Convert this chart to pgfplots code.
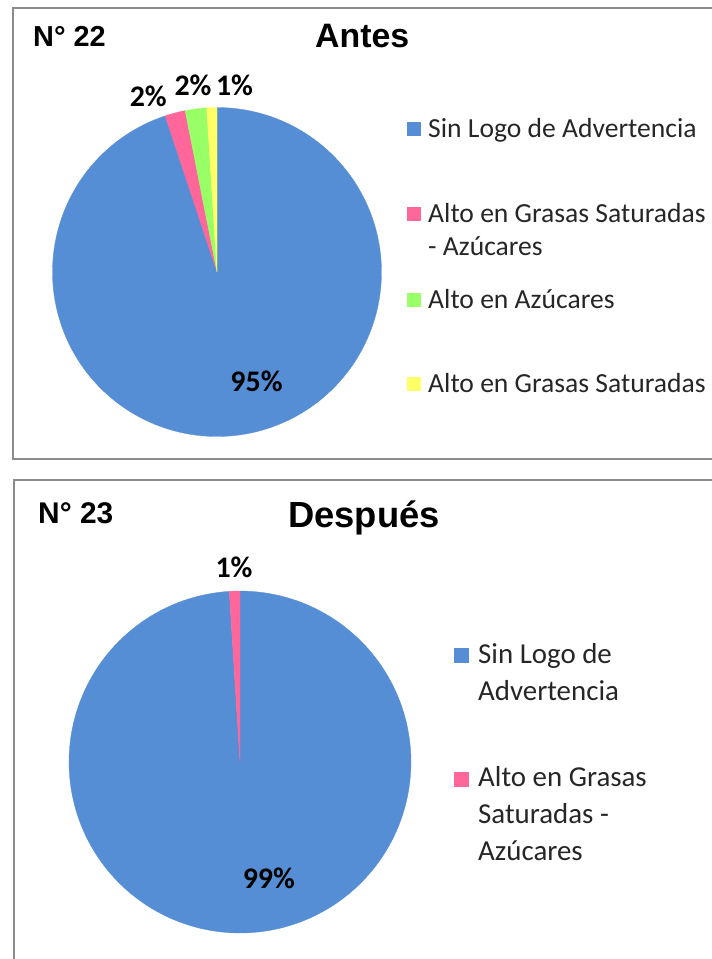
\documentclass[border=0pt]{standalone}
\usepackage{pgfplots}
\pgfplotsset{compat=1.18}
\usepgfplotslibrary{polar}
\usepackage{fontspec}
\setmainfont{Carlito}
\newfontfamily\arial{Liberation Sans}
\definecolor{cblue}{RGB}{85,142,213}
\definecolor{cpink}{RGB}{255,102,153}
\definecolor{cgreen}{RGB}{153,255,102}
\definecolor{cyellow}{RGB}{255,255,102}
\definecolor{cframe}{RGB}{140,140,140}
% data (percent)
\def\AntesSin{94.9}\def\AntesGSA{2.0}\def\AntesAz{2.1}\def\AntesGS{1.0}
\def\DespSin{99.0}\def\DespGSA{1.0}
\pgfmathsetmacro{\aA}{90-3.6*\AntesSin}
\pgfmathsetmacro{\aB}{\aA-3.6*\AntesGSA}
\pgfmathsetmacro{\aC}{\aB-3.6*\AntesAz}
\pgfmathsetmacro{\aD}{\aC-3.6*\AntesGS}
\pgfmathsetmacro{\bA}{90-3.6*\DespSin}
\pgfmathsetmacro{\bB}{\bA-3.6*\DespGSA}
\pgfplotsset{pie/.style={hide axis, scale only axis, clip=false, xmin=0, xmax=360, ymin=0, ymax=1, anchor=center}}
\begin{document}
\begin{tikzpicture}
\begin{scope}[x=1bp,y=-1bp]
\useasboundingbox (0,0) rectangle (712,959);
% frames
\draw[cframe, line width=1.3bp] (712,8) -- (13,8) -- (13,459) -- (712,459);
\draw[cframe, line width=1.3bp] (712,480) -- (14,480) -- (14,959);
\end{scope}
% top pie
\begin{polaraxis}[pie, width=329bp, at={(217bp,-272bp)}]
\addplot[fill=cblue, draw=cblue, line width=0.3bp, domain=\aA:90, samples=180] {1} -- (axis cs:0,0) -- cycle;
\addplot[fill=cpink, draw=cpink, line width=0.3bp, domain=\aB:\aA, samples=10] {1} -- (axis cs:0,0) -- cycle;
\addplot[fill=cgreen, draw=cgreen, line width=0.3bp, domain=\aC:\aB, samples=10] {1} -- (axis cs:0,0) -- cycle;
\addplot[fill=cyellow, draw=cyellow, line width=0.3bp, domain=\aD:\aC, samples=10] {1} -- (axis cs:0,0) -- cycle;
\end{polaraxis}
% bottom pie
\begin{polaraxis}[pie, width=342bp, at={(240bp,-762bp)}]
\addplot[fill=cblue, draw=cblue, line width=0.3bp, domain=\bA:90, samples=180] {1} -- (axis cs:0,0) -- cycle;
\addplot[fill=cpink, draw=cpink, line width=0.3bp, domain=\bB:\bA, samples=10] {1} -- (axis cs:0,0) -- cycle;
\end{polaraxis}
\begin{scope}[x=1bp,y=-1bp]
% titles
\node[anchor=base west, inner sep=0pt, font=\arial\bfseries\fontsize{29}{32}\selectfont] at (33,46) {N° 22};
\node[anchor=base west, inner sep=0pt, font=\arial\bfseries\fontsize{34}{38}\selectfont] at (315,47) {Antes};
\node[anchor=base west, inner sep=0pt, font=\arial\bfseries\fontsize{30}{33}\selectfont] at (38,523) {N° 23};
\node[anchor=base west, inner sep=0pt, font=\arial\bfseries\fontsize{36.5}{40}\selectfont] at (288,527) {Después};
% pie labels
\begin{scope}[every node/.style={anchor=base, inner sep=0pt, font=\bfseries\fontsize{30}{33}\selectfont}]
\node at (148.3,106.7) {2\%};
\node at (193,95) {2\%};
\node at (234.5,95) {1\%};
\node at (256.5,391.7) {95\%};
\node at (234,577.3) {1\%};
\node at (268.8,888.3) {99\%};
\end{scope}
% legend top
\begin{scope}[every node/.style={anchor=base west, inner sep=0pt, font=\fontsize{27.7}{33}\selectfont, text=black!85}]
\fill[cblue] (407,122) rectangle (421,136);
\node at (428,137) {Sin Logo de Advertencia};
\fill[cpink] (407,207) rectangle (421,221);
\node at (428,222) {Alto en Grasas Saturadas};
\node at (428,255) {- Azúcares};
\fill[cgreen] (407,293) rectangle (421,307);
\node at (428,308) {Alto en Azúcares};
\fill[cyellow] (407,377) rectangle (421,391);
\node at (428,392) {Alto en Grasas Saturadas};
\end{scope}
% legend bottom
\begin{scope}[every node/.style={anchor=base west, inner sep=0pt, font=\fontsize{29}{36}\selectfont, text=black!85}]
\fill[cblue] (454,648) rectangle (469,663);
\node at (478,663.3) {Sin Logo de};
\node at (478,700) {Advertencia};
\fill[cpink] (454,772) rectangle (469,787);
\node at (478,786.7) {Alto en Grasas};
\node at (478,823) {Saturadas -};
\node at (478,860) {Azúcares};
\end{scope}
\end{scope}
\end{tikzpicture}
\end{document}
